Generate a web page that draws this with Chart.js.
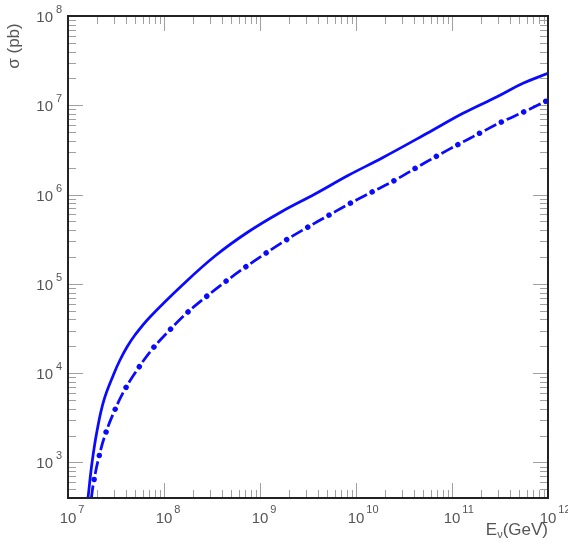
<!DOCTYPE html>
<html>
<head>
<meta charset="utf-8">
<script src="https://cdn.jsdelivr.net/npm/chart.js@4/dist/chart.umd.min.js"></script>
<style>
html,body{margin:0;padding:0;background:#fff;}
canvas{display:block;}
</style>
</head>
<body>
<canvas id="c" width="568" height="557"></canvas>
<script>
// Neutrino energy (GeV) and cross sections (pb)
const energySolid = [1.616e7, 1.778e7, 2.005e7, 2.371e7, 3.014e7, 3.481e7, 4.118e7, 4.988e7, 7.149e7, 1.577e8, 3.399e8, 7.499e8, 1.675e9, 3.741e9, 8.255e9, 1.911e10, 5.900e10, 1.302e11, 2.943e11, 5.491e11, 1.0e12];
const sigmaSolid  = [400, 987, 2253, 5011, 9922, 1.405e4, 1.965e4, 2.678e4, 4.259e4, 9.85e4, 2.053e5, 3.812e5, 6.435e5, 1.016e6, 1.636e6, 2.603e6, 5.064e6, 8.136e6, 1.248e7, 1.764e7, 2.282e7];

const energyDash = [1.75e7, 1.84e7, 2.07e7, 2.43e7, 3.01e7, 3.90e7, 5.32e7, 7.55e7, 1.13e8, 1.71e8, 2.72e8, 4.32e8, 6.98e8, 1.13e9, 1.87e9, 3.09e9, 5.24e9, 8.67e9, 1.47e10, 2.49e10, 4.19e10, 6.93e10, 1.17e11, 1.99e11, 3.34e11, 5.66e11, 9.68e11];
const sigmaDash  = [398, 582, 1081, 2023, 3664, 6531, 1.11e4, 1.86e4, 2.99e4, 4.67e4, 7.11e4, 1.05e5, 1.53e5, 2.18e5, 3.10e5, 4.27e5, 5.89e5, 7.98e5, 1.07e6, 1.43e6, 1.98e6, 2.70e6, 3.66e6, 4.94e6, 6.56e6, 8.49e6, 1.12e7];

const xDecades = [7, 8, 9, 10, 11, 12];
const yDecades = [3, 4, 5, 6, 7, 8];
const xTitle = 'E';
const xTitleSub = 'ν';
const xTitleRest = '(GeV)';
const yTitle = 'σ (pb)';

const xMin = 1e7, xMax = 1e12, yMin = 400, yMax = 1e8;

const toPts = (xs, ys) => xs.map((x, i) => ({x: x, y: ys[i]}));
const BLUE = '#0a0aff';

const axesPlugin = {
  id: 'rootAxes',
  beforeDatasetsDraw(chart) {
    const ctx = chart.ctx, a = chart.chartArea;
    const xs = chart.scales.x, ys = chart.scales.y;
    ctx.save();
    ctx.strokeStyle = '#a0a0a0';
    ctx.lineWidth = 1;
    ctx.beginPath();
    for (let d = 7; d < 12; d++) {
      for (let m = 1; m <= 9; m++) {
        const v = m * Math.pow(10, d);
        if (v <= xMin || v >= xMax) continue;
        const px = Math.round(xs.getPixelForValue(v)) + 0.5;
        const len = m === 1 ? 15 : 8;
        ctx.moveTo(px, a.bottom); ctx.lineTo(px, a.bottom - len);
        ctx.moveTo(px, a.top); ctx.lineTo(px, a.top + len);
      }
    }
    for (let d = 2; d < 8; d++) {
      for (let m = 1; m <= 9; m++) {
        const v = m * Math.pow(10, d);
        if (v <= yMin || v >= yMax) continue;
        const py = Math.round(ys.getPixelForValue(v)) + 0.5;
        const len = m === 1 ? 15 : 8;
        ctx.moveTo(a.left, py); ctx.lineTo(a.left + len, py);
        ctx.moveTo(a.right, py); ctx.lineTo(a.right - len, py);
      }
    }
    ctx.stroke();
    ctx.restore();
  },
  afterDraw(chart) {
    const ctx = chart.ctx, a = chart.chartArea;
    const xs = chart.scales.x, ys = chart.scales.y;
    ctx.save();
    ctx.strokeStyle = '#222';
    ctx.lineWidth = 2;
    ctx.strokeRect(a.left, a.top, a.right - a.left, a.bottom - a.top);

    const big = '15px "Liberation Sans", Arial, sans-serif';
    const small = '11px "Liberation Sans", Arial, sans-serif';
    ctx.fillStyle = '#555';
    ctx.textBaseline = 'alphabetic';
    // x tick labels
    xDecades.forEach(e => {
      const px = xs.getPixelForValue(Math.pow(10, e));
      ctx.font = big;
      const w = ctx.measureText('10').width;
      ctx.textAlign = 'center';
      ctx.fillText('10', px, a.bottom + 25);
      ctx.font = small;
      ctx.textAlign = 'left';
      ctx.fillText(String(e), px + w / 2 + 2, a.bottom + 15);
    });
    // y tick labels
    yDecades.forEach(e => {
      const py = ys.getPixelForValue(Math.pow(10, e));
      ctx.font = big;
      ctx.textAlign = 'right';
      ctx.fillText('10', 53, py + 6);
      ctx.font = small;
      ctx.textAlign = 'left';
      ctx.fillText(String(e), 56, py - 3);
    });
    // x title
    ctx.font = '17px "Liberation Sans", Arial, sans-serif';
    const wRest = ctx.measureText(xTitleRest).width;
    ctx.font = '11px "Liberation Sans", Arial, sans-serif';
    const wSub = ctx.measureText(xTitleSub).width;
    ctx.font = '17px "Liberation Sans", Arial, sans-serif';
    const wE = ctx.measureText(xTitle).width;
    ctx.textAlign = 'left';
    const x0 = a.right - wRest - wSub - wE;
    ctx.fillText(xTitle, x0, 535);
    ctx.font = '11px "Liberation Sans", Arial, sans-serif';
    ctx.fillText(xTitleSub, x0 + wE, 538);
    ctx.font = '17px "Liberation Sans", Arial, sans-serif';
    ctx.fillText(xTitleRest, x0 + wE + wSub, 535);
    // y title
    ctx.translate(19, 46);
    ctx.rotate(-Math.PI / 2);
    ctx.textAlign = 'center';
    ctx.font = '17px "Liberation Sans", Arial, sans-serif';
    ctx.fillText(yTitle, 0, 0);
    ctx.restore();
  }
};

new Chart(document.getElementById('c'), {
  type: 'line',
  data: {
    datasets: [
      {
        data: toPts(energySolid, sigmaSolid),
        borderColor: BLUE, borderWidth: 2.75, pointRadius: 0,
        tension: 0.4, fill: false
      },
      {
        data: toPts(energyDash, sigmaDash),
        borderColor: BLUE, borderWidth: 2.75, pointRadius: 0,
        borderDash: [13, 11.5], borderCapStyle: 'butt',
        tension: 0.4, fill: false
      },
      {
        data: toPts(energyDash, sigmaDash),
        borderColor: BLUE, borderWidth: 5.5, pointRadius: 0,
        borderDash: [0.01, 24.49], borderDashOffset: 5.75, borderCapStyle: 'round',
        tension: 0.4, fill: false
      }
    ]
  },
  options: {
    responsive: false,
    animation: false,
    devicePixelRatio: 1,
    layout: {padding: {left: 68, right: 20, top: 16, bottom: 59}},
    plugins: {legend: {display: false}, tooltip: {enabled: false}},
    scales: {
      x: {type: 'logarithmic', min: xMin, max: xMax, display: false},
      y: {type: 'logarithmic', min: yMin, max: yMax, display: false}
    }
  },
  plugins: [axesPlugin]
});
</script>
</body>
</html>
